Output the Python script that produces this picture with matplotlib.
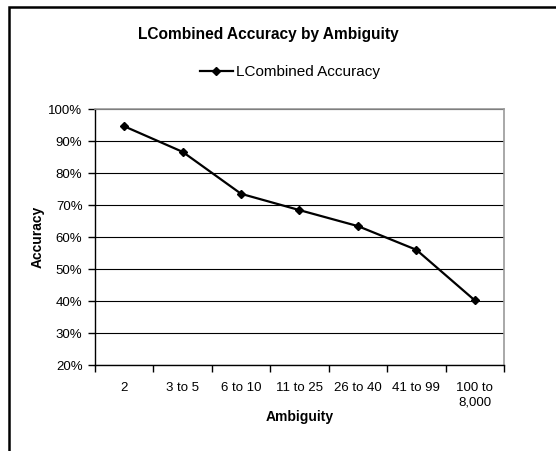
import matplotlib
matplotlib.use("Agg")
import matplotlib.pyplot as plt
from matplotlib.patches import Rectangle
from matplotlib.ticker import FixedLocator, FuncFormatter

categories = ["2", "3 to 5", "6 to 10", "11 to 25", "26 to 40", "41 to 99", "100 to\n8,000"]
accuracy = [94.6, 86.6, 73.5, 68.4, 63.4, 56.0, 40.2]
y_ticks = [20, 30, 40, 50, 60, 70, 80, 90, 100]

plt.rcParams['font.family'] = ['Liberation Sans', 'DejaVu Sans']

W, H = 556, 451
fig = plt.figure(figsize=(W / 100, H / 100), dpi=100)
fig.patch.set_facecolor('white')

# outer chart frame (only left and top visible)
fig.add_artist(Rectangle((9 / W, -0.1), 1.2, (H - 7) / H + 0.1, transform=fig.transFigure,
                         fill=False, edgecolor='black', linewidth=1.8))

left, right, top, bottom = 95, 504, 109, 365
ax = fig.add_axes([left / W, 1 - bottom / H, (right - left) / W, (bottom - top) / H])

x = list(range(len(categories)))
line, = ax.plot(x, accuracy, color='black', linewidth=1.6, marker='D', markersize=4.5,
                label='LCombined Accuracy', zorder=3)

ax.set_xlim(-0.5, len(categories) - 0.5)
ax.set_ylim(20, 100)
ax.set_yticks(y_ticks)
ax.yaxis.set_major_formatter(FuncFormatter(lambda v, p: f"{int(v)}%"))
ax.yaxis.grid(True, color='black', linewidth=0.8)
ax.set_axisbelow(True)

ax.xaxis.set_major_locator(FixedLocator([i - 0.5 for i in range(len(categories) + 1)]))
ax.xaxis.set_major_formatter(FuncFormatter(lambda v, p: ""))
ax.xaxis.set_minor_locator(FixedLocator(x))
ax.set_xticklabels(categories, minor=True, linespacing=1.35)
ax.tick_params(axis='x', which='minor', length=0, pad=12, labelsize=9.5)
ax.tick_params(axis='x', which='major', length=5, width=1, direction='out', color='black')
ax.tick_params(axis='y', length=5, width=1, direction='out', labelsize=9.5, pad=4)

for s in ['left', 'bottom']:
    ax.spines[s].set_color('black')
    ax.spines[s].set_linewidth(1)
for s in ['top', 'right']:
    ax.spines[s].set_color('#999999')
    ax.spines[s].set_linewidth(1.2)

ax.set_xlabel('Ambiguity', fontsize=10, fontweight='bold', labelpad=1)
ax.set_ylabel('Accuracy', fontsize=10, fontweight='bold', labelpad=2.5)

fig.text(268 / W, 1 - 34 / H, 'LCombined Accuracy by Ambiguity', ha='center', va='center',
         fontsize=11.2, fontweight='bold')

fig.legend(handles=[line], loc='center', bbox_to_anchor=(290 / W, 1 - 72 / H),
           frameon=False, fontsize=11, handlelength=2.2, handletextpad=0.2)

fig.savefig('out.png', dpi=100)
